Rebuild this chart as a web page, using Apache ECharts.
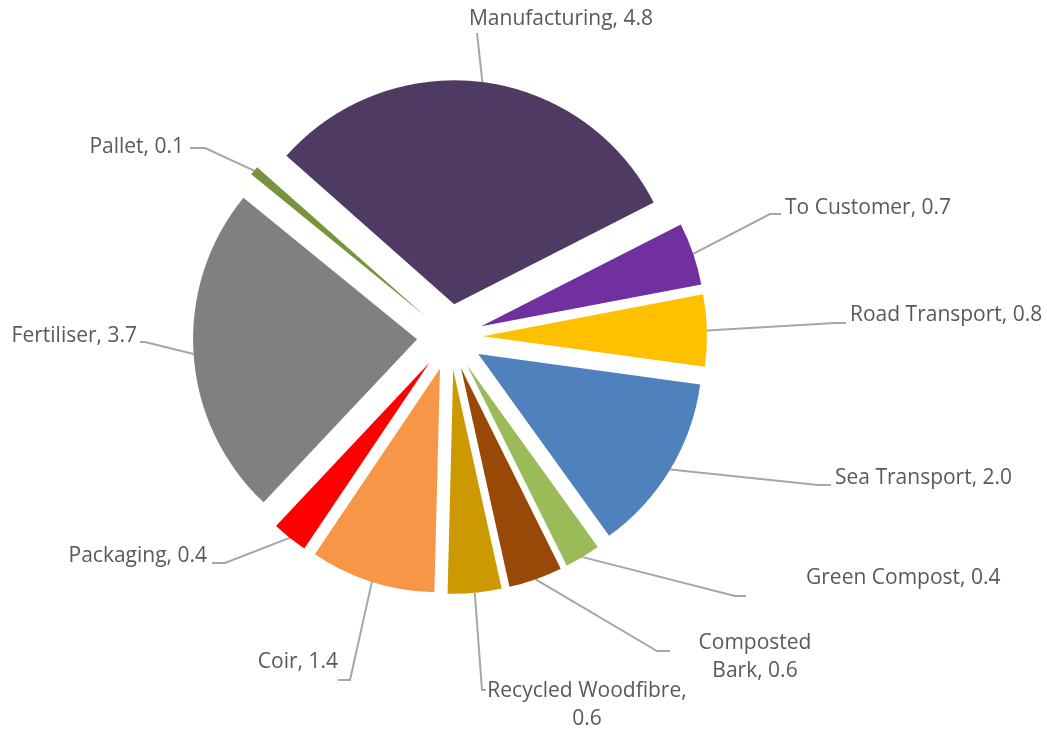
<!DOCTYPE html>
<html><head><meta charset="utf-8">
<script src="https://cdn.jsdelivr.net/npm/echarts@6/dist/echarts.min.js"></script>
<style>html,body{margin:0;padding:0;background:#fff}#c{width:1047px;height:731px}</style>
</head><body><div id="c"></div>
<script>
const categories = ['Manufacturing','To Customer','Road Transport','Sea Transport','Green Compost','Composted Bark','Recycled Woodfibre','Coir','Packaging','Fertiliser','Pallet'];
const values = [4.8,0.7,0.8,2.0,0.4,0.6,0.6,1.4,0.4,3.7,0.1];
const colors = ['#4E3A62','#7030A0','#FFC000','#4F81BD','#9BBB59','#984807','#CC9900','#F79646','#FF0000','#808080','#77933C'];
// label placement: [x, y, align]
const labelPlaces = [
  [561,19,'center'], [785,208,'left'], [850,315,'left'], [835,478,'left'],
  [806,578,'left'], [755,657,'center'], [587,705,'center'], [338,662,'right'],
  [207,556,'right'], [137,336,'right'], [184,147,'right']
];
// leader line: [elbowX, elbowY, endX, endY]
const leaderPlaces = [
  [477,33,477,33], [770,214,781,214], [835,323,846,323], [818,485,831,485],
  [735,596,746,596], [657,651,670,651], [482,690,486,690], [350,680,338,680],
  [225,563,212,563], [145,342,140,342], [205,148,190,148]
];
const labelBreaks = {5: ['Composted ', 'Composted\n'], 6: [', ', ',\n']};

const CX = 450, CY = 337, R = 224, START = 138.5, EXPLODE = 33;
const total = values.reduce((a,b)=>a+b,0);

function fmt(i){
  let t = categories[i] + ', ' + values[i].toFixed(1);
  const b = labelBreaks[i];
  if (b) t = t.replace(b[0], b[1]);
  return t;
}

// one pie layer per slice, shifted outward along its mid angle (exploded pie)
const series = [];
let cum = 0;
values.forEach((v, k) => {
  const mid = (START - (cum + v/2)/total*360) * Math.PI/180;
  cum += v;
  series.push({
    type: 'pie',
    center: [CX + EXPLODE*Math.cos(mid), CY - EXPLODE*Math.sin(mid)],
    radius: R,
    startAngle: START,
    clockwise: true,
    avoidLabelOverlap: false,
    silent: true,
    emphasis: {disabled: true},
    label: {
      show: true, position: 'outside', color: '#595959',
      fontFamily: 'Open Sans', fontSize: 21, lineHeight: 28,
      formatter: p => fmt(p.dataIndex)
    },
    labelLine: {show: true, length: 10, length2: 10, smooth: false,
      lineStyle: {color: '#A6A6A6', width: 2}},
    labelLayout: function(p){
      const pl = labelPlaces[p.dataIndex];
      const ld = leaderPlaces[p.dataIndex];
      const p0 = p.labelLinePoints ? p.labelLinePoints[0] : null;
      const out = {x: pl[0], y: pl[1], align: pl[2], verticalAlign: 'middle', hideOverlap: false};
      if (p0) out.labelLinePoints = [p0, [ld[0], ld[1]], [ld[2], ld[3]]];
      return out;
    },
    data: categories.map((n,i)=>({
      name: n, value: values[i],
      itemStyle: {color: i === k ? colors[i] : 'rgba(0,0,0,0)'},
      label: {show: i === k},
      labelLine: {show: i === k}
    }))
  });
});

const chart = echarts.init(document.getElementById('c'), null, {renderer:'canvas'});
chart.setOption({ animation: false, backgroundColor: '#fff', series: series });
</script></body></html>
